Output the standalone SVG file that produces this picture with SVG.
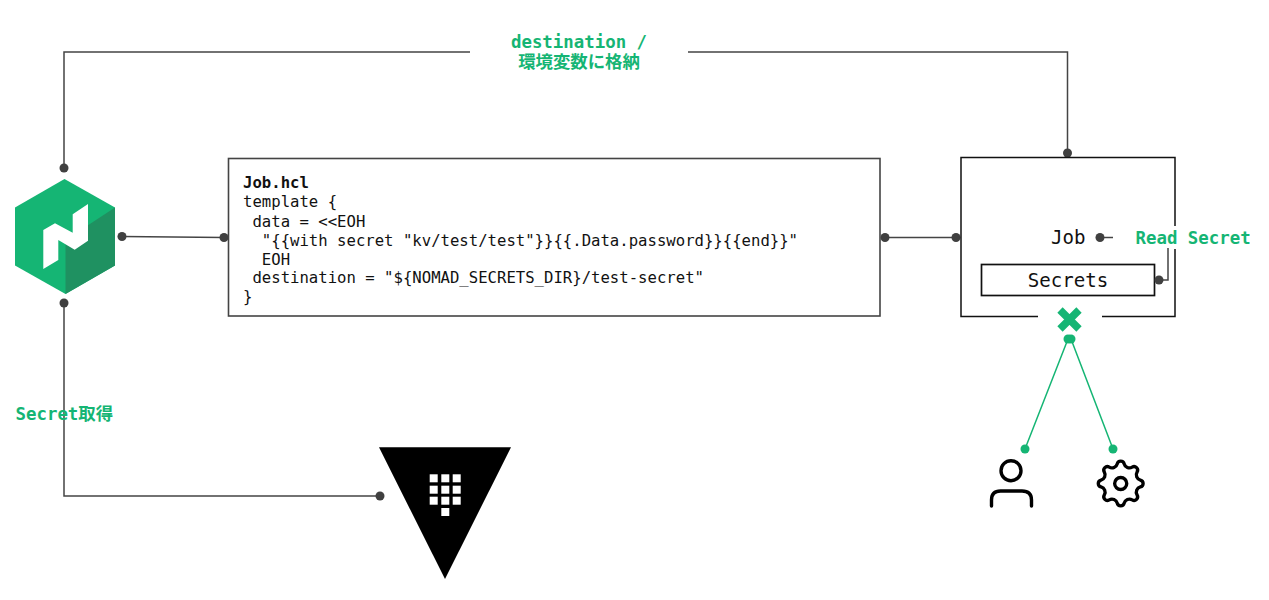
<svg xmlns="http://www.w3.org/2000/svg" width="1269" height="600" viewBox="0 0 1269 600">
<defs>
<style>
.ln{fill:none;stroke:#444;stroke-width:1.5}
.dot{fill:#404040}
.gd{fill:#15b574}
.gl{fill:none;stroke:#15b574;stroke-width:1.5}
.box{fill:#fff;stroke:#444;stroke-width:1.6}
.bx{fill:#fff;stroke:#111;stroke-width:1.7}
.code{font-family:"DejaVu Sans Mono","Liberation Mono",monospace;font-size:15.63px;fill:#111;white-space:pre}
.big{font-family:"DejaVu Sans Mono","Liberation Mono",monospace;font-size:19.1px;fill:#111}
.lab{font-family:"DejaVu Sans Mono","Noto Sans CJK JP",monospace;font-size:17.4px;font-weight:700;fill:#15b574}
.ic{fill:none;stroke:#000;stroke-width:3.4;stroke-linecap:round;stroke-linejoin:round}
</style>
</defs>
<rect width="1269" height="600" fill="#fff"/>
<g id="connectors">
<path class="ln" d="M64 168V52H470M688 52H1067.500V153"/>
<path class="ln" d="M122 236.500L224 237.500"/>
<path class="ln" d="M885 237.500H956"/>
<path class="ln" d="M64 303V496H380"/>
<path class="ln" d="M1100 237.500H1113"/>
<path class="ln" d="M1159 280H1168V248"/>
<path class="gl" d="M1068 339L1025 449M1071 339L1113 449"/>
<g class="dot">
<circle cx="64" cy="168" r="4.500"/><circle cx="1067.500" cy="153" r="4.500"/>
<circle cx="122" cy="236.500" r="4.500"/><circle cx="224" cy="237.500" r="4.500"/>
<circle cx="885" cy="237.500" r="4.500"/><circle cx="956" cy="237.500" r="4.500"/>
<circle cx="64" cy="303" r="4.500"/><circle cx="380" cy="496" r="4.500"/>
<circle cx="1100" cy="237.500" r="4.500"/>
</g>
<g class="gd">
<circle cx="1025" cy="449" r="4.500"/><circle cx="1113" cy="449" r="4.500"/>
<circle cx="1068" cy="339" r="4.500"/><circle cx="1071" cy="339" r="4.500"/>
</g>
</g>
<g id="nomad">
<polygon class="gd" points="64.500,179 115,207.500 115,265.500 65.500,294 15,265.500 15,207.500"/>
<polygon fill="#1f9161" points="115,207.500 115,265.500 65.500,294 65.500,240"/>
<polygon fill="#fff" points="43.300,230 55,223.300 72.700,232.700 72.700,214.300 88,204 88,240.700 74.700,249.700 58.300,240 58.300,260 43.300,269"/>
</g>
<g id="job-hcl">
<rect class="box" x="228.500" y="158.500" width="651.500" height="157.500"/>
<text class="code" x="243" y="187.500" font-weight="700">Job.hcl</text>
<text class="code" x="243" y="207">template {</text>
<text class="code" x="243" y="226.500" xml:space="preserve"> data = &lt;&lt;EOH</text>
<text class="code" x="243" y="245.500" xml:space="preserve">  "{{with secret "kv/test/test"}}{{.Data.password}}{{end}}"</text>
<text class="code" x="243" y="264.500" xml:space="preserve">  EOH</text>
<text class="code" x="243" y="283" xml:space="preserve"> destination = "${NOMAD_SECRETS_DIR}/test-secret"</text>
<text class="code" x="243" y="302">}</text>
</g>
<g id="job">
<path class="ln" style="stroke:#111" d="M1175 226V157.500H961V316.500H1038M1102 316.500H1175V249"/>
<text class="big" x="1051" y="244">Job</text>
</g>
<g id="secrets">
<rect class="bx" x="981.500" y="264.500" width="173" height="31"/>
<text class="big" x="1068" y="287" text-anchor="middle">Secrets</text>
<circle class="dot" cx="1159" cy="280" r="4.500"/>
</g>
<g id="deny">
<path d="M1060 310L1079 329M1079 310L1060 329" fill="none" stroke="#15b574" stroke-width="7.500"/>
</g>
<g id="vault">
<polygon points="379,447.300 511,447.300 445,579" fill="#000"/>
<g fill="#fff">
<rect x="429.700" y="474.300" width="8" height="8"/><rect x="441.300" y="474.300" width="8" height="8"/><rect x="452.700" y="474.300" width="8" height="8"/>
<rect x="429.700" y="485.700" width="8" height="8"/><rect x="441.300" y="485.700" width="8" height="8"/><rect x="452.700" y="485.700" width="8" height="8"/>
<rect x="429.700" y="496.700" width="8" height="8"/><rect x="441.300" y="496.700" width="8" height="8"/><rect x="452.700" y="496.700" width="8" height="8"/>
<rect x="441.300" y="508" width="8" height="8"/>
</g>
</g>
<g id="user">
<circle class="ic" cx="1011" cy="470.700" r="10"/>
<path class="ic" d="M991.500 506V500Q991.500 491 1000.500 491H1022Q1031.500 491 1031.500 500V506"/>
</g>
<g id="machine">
<g transform="translate(1120.700 483.500) scale(1.08)">
<path class="ic" style="stroke-width:3.1" d="M-3.210-18.220A3.300 3.300 0 0 1 3.210-18.220A5 5 0 0 0 10.610-15.150A3.300 3.300 0 0 1 15.150-10.610A5 5 0 0 0 18.220-3.210A3.300 3.300 0 0 1 18.220 3.210A5 5 0 0 0 15.150 10.610A3.300 3.300 0 0 1 10.610 15.150A5 5 0 0 0 3.210 18.220A3.300 3.300 0 0 1-3.210 18.220A5 5 0 0 0-10.610 15.150A3.300 3.300 0 0 1-15.150 10.610A5 5 0 0 0-18.220 3.210A3.300 3.300 0 0 1-18.220-3.210A5 5 0 0 0-15.150-10.610A3.300 3.300 0 0 1-10.610-15.150A5 5 0 0 0-3.210-18.220Z"/>
<circle class="ic" style="stroke-width:3.1" r="5.600"/>
</g>
</g>
<g id="labels">
<text class="lab" x="579" y="47.500" text-anchor="middle">destination /</text>
<text class="lab" x="579" y="67.500" text-anchor="middle">環境変数に格納</text>
<text class="lab" x="15.500" y="419.500">Secret取得</text>
<text class="lab" x="1135.500" y="244">Read Secret</text>
</g>
</svg>
